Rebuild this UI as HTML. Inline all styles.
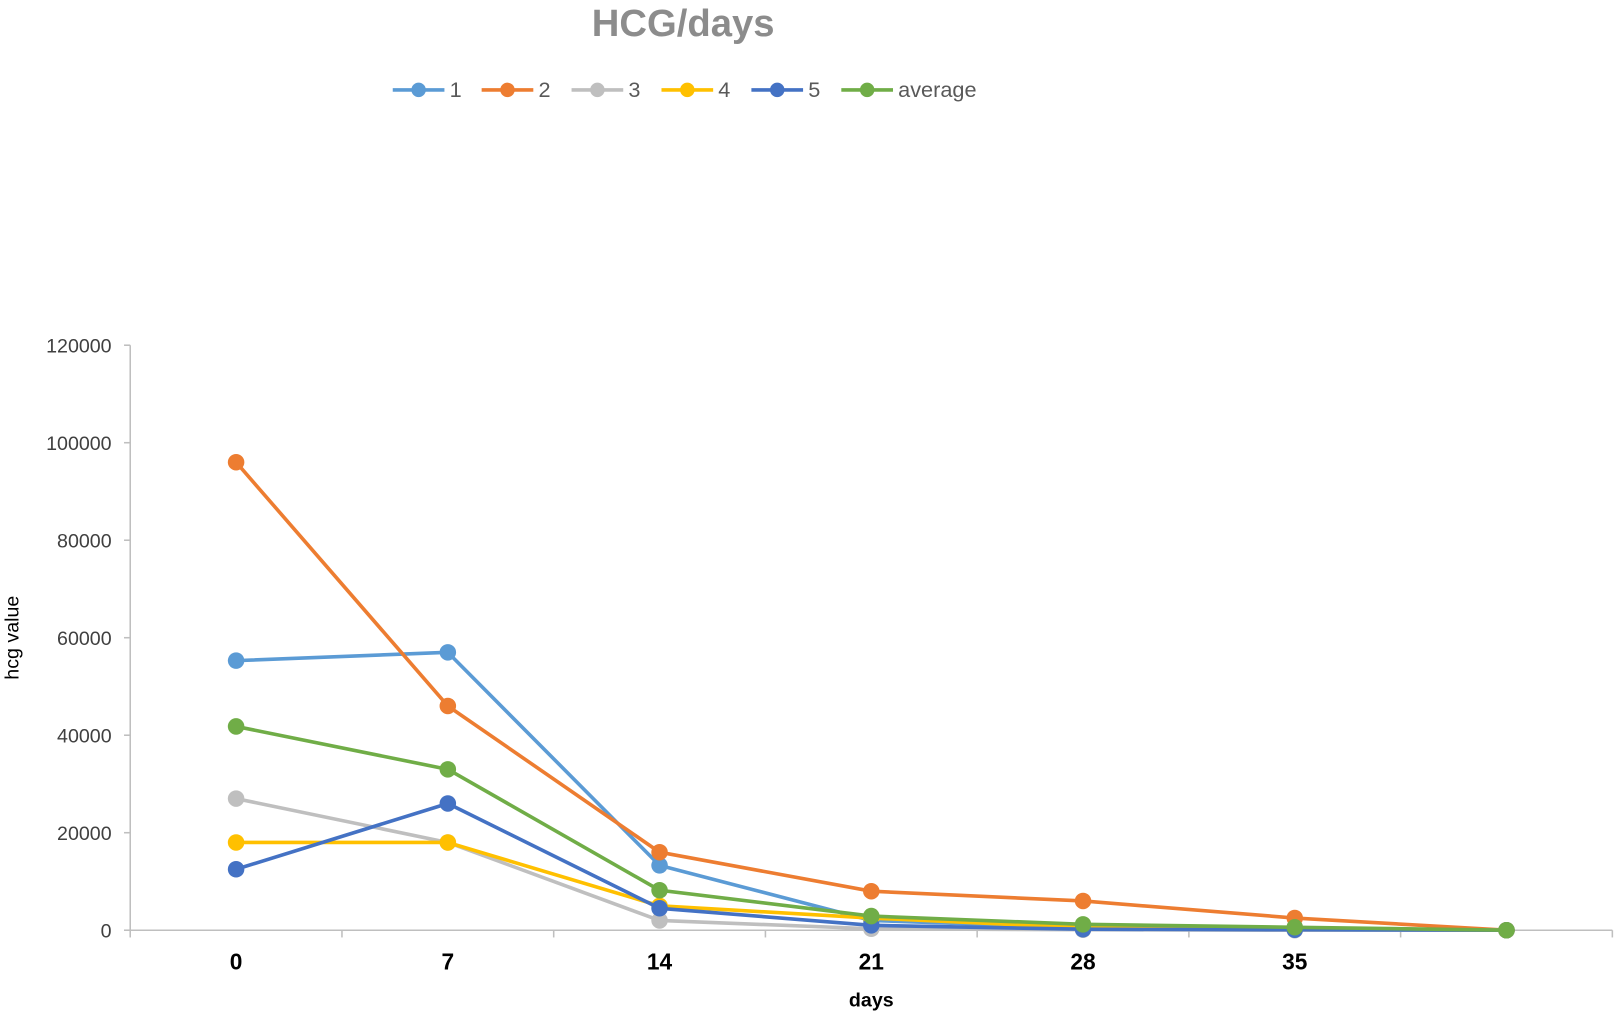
<!DOCTYPE html>
<html><head><meta charset="utf-8"><style>
html,body{margin:0;padding:0;background:#fff;}
svg{display:block;font-family:"Liberation Sans",sans-serif;}
</style></head><body>
<svg id="chart" width="1620" height="1016" viewBox="0 0 1567.4 983" preserveAspectRatio="none">
<text x="661" y="35" text-anchor="middle" font-size="37" font-weight="bold" fill="#8c8c8c">HCG/days</text>
<text x="18" y="617" text-anchor="middle" font-size="19" fill="#000" transform="rotate(-90 18 617)">hcg value</text>
<text x="843" y="974" text-anchor="middle" font-size="19" font-weight="bold" fill="#000">days</text>
<g id="legend"></g>
<g id="axes"></g>
<g id="plot"></g>
</svg>
<script>
const categories = ["0","7","14","21","28","35",""];
const seriesNames = ["1","2","3","4","5","average"];
const s1 = [55300,57000,13300,2000,500,200,0];
const s2 = [96000,46000,16000,8000,6000,2500,0];
const s3 = [27000,18000,2000,300,100,0,0];
const s4 = [18000,18000,5000,2500,500,200,0];
const s5 = [12500,26000,4500,1000,200,100,0];
const avg = [41800,33000,8200,2900,1200,600,0];
const yTicks = [0,20000,40000,60000,80000,100000,120000];

const colors = ["#5b9bd5","#ed7d31","#bfbfbf","#ffc000","#4472c4","#70ad47"];
const allSeries = [s1,s2,s3,s4,s5,avg];
const NS = "http://www.w3.org/2000/svg";
const x0 = 126, x1 = 1560, yBase = 900, yTop = 334, yMax = 120000;
const band = (x1 - x0) / categories.length;
function xPos(i){ return x0 + band * (i + 0.5); }
function yPos(v){ return yBase - (v / yMax) * (yBase - yTop); }
function mk(tag, attrs, parent){ const e = document.createElementNS(NS, tag); for (const k in attrs) e.setAttribute(k, attrs[k]); parent.appendChild(e); return e; }

const axes = document.getElementById("axes");
const yAxis = mk("line",{x1:x0,y1:yTop,x2:x0,y2:yBase,stroke:"#bfbfbf","stroke-width":1.5},axes);


const xAxis = mk("line",{x1:x0-6,y1:yBase,x2:x1,y2:yBase,stroke:"#bfbfbf","stroke-width":1.5},axes);


yTicks.forEach(t => {
  const y = yPos(t);
  const tk = mk("line",{x1:x0-6,y1:y,x2:x0,y2:y,stroke:"#bfbfbf","stroke-width":1.5},axes);
  
  
  const lb = mk("text",{x:108,y:y+7,"text-anchor":"end","font-size":19,fill:"#404040"},axes);
  lb.textContent = t;
  
  
});
for (let i = 0; i <= categories.length; i++) {
  const x = x0 + band * i;
  const tk = mk("line",{x1:x,y1:yBase,x2:x,y2:yBase+7,stroke:"#bfbfbf","stroke-width":1.5},axes);
  
  
}
categories.forEach((c,i) => {
  const lb = mk("text",{x:xPos(i),y:938,"text-anchor":"middle","font-size":22,"font-weight":"bold",fill:"#000"},axes);
  lb.textContent = c;
  
  
});

const plot = document.getElementById("plot");
allSeries.forEach((data, si) => {
  const g = mk("g",{},plot);
  
  
  const pts = data.map((v,i) => xPos(i) + "," + yPos(v)).join(" ");
  const pl = mk("polyline",{points:pts,fill:"none",stroke:colors[si],"stroke-width":3.5,"stroke-linejoin":"round"},g);
  
  
  data.forEach((v,i) => {
    const c = mk("circle",{cx:xPos(i),cy:yPos(v),r:8,fill:colors[si]},g);
    
    
  });
});

const legend = document.getElementById("legend");
const legX = [380,466,553,640,727,814];
seriesNames.forEach((n,i) => {
  const g = mk("g",{},legend);
  
  
  const lx = legX[i];
  mk("line",{x1:lx,y1:87,x2:lx+50,y2:87,stroke:colors[i],"stroke-width":3.5},g);
  mk("circle",{cx:lx+25,cy:87,r:7,fill:colors[i]},g);
  const t = mk("text",{x:lx+55,y:94,"font-size":21,fill:"#595959"},g);
  t.textContent = n;
});
</script>
</body></html>
